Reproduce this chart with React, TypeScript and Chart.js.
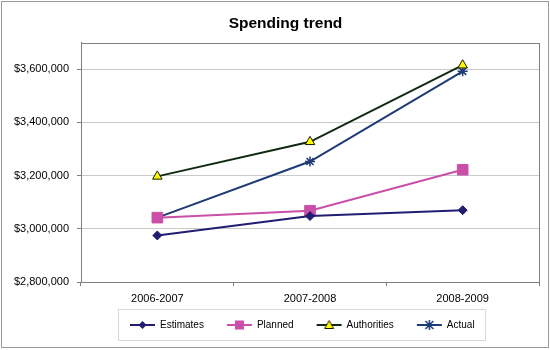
import React, { useEffect, useRef } from "react";
import { Chart, registerables } from "chart.js";

Chart.register(...registerables);

// ---- data ----
const categories = ["2006-2007", "2007-2008", "2008-2009"];
const estimates = [2975000, 3048000, 3070000];
const planned = [3042000, 3068000, 3222000];
const authorities = [3197000, 3327000, 3615000];
const actual = [3042000, 3253000, 3592000];
const yMin = 2800000;
const yMax = 3700000;
const yTickValues = [2800000, 3000000, 3200000, 3400000, 3600000];
const titleText = "Spending trend";
const seriesNames = ["Estimates", "Planned", "Authorities", "Actual"];

const FONT = "'Liberation Sans', Arial, sans-serif";
const C_EST = "#211d70";
const C_PLAN = "#c94fa9";
const C_AUTH = "#0f2a10";
const C_ACT = "#1e3b78";

function drawMarker(ctx: CanvasRenderingContext2D, kind: string, cx: number, cy: number) {
  ctx.save();
  if (kind === "diamond") {
    ctx.fillStyle = C_EST;
    ctx.beginPath();
    ctx.moveTo(cx, cy - 4);
    ctx.lineTo(cx + 4, cy);
    ctx.lineTo(cx, cy + 4);
    ctx.lineTo(cx - 4, cy);
    ctx.closePath();
    ctx.fill();
  } else if (kind === "square") {
    ctx.fillStyle = C_PLAN;
    ctx.fillRect(cx - 4.5, cy - 4.5, 9, 9);
  } else if (kind === "triangle") {
    ctx.fillStyle = "#ffff00";
    ctx.strokeStyle = "#1a1a00";
    ctx.lineWidth = 1;
    ctx.beginPath();
    ctx.moveTo(cx, cy - 4.5);
    ctx.lineTo(cx + 4.5, cy + 3.5);
    ctx.lineTo(cx - 4.5, cy + 3.5);
    ctx.closePath();
    ctx.fill();
    ctx.stroke();
  } else if (kind === "star") {
    ctx.strokeStyle = C_ACT;
    ctx.lineWidth = 1.5;
    ctx.beginPath();
    ctx.moveTo(cx - 4, cy - 4);
    ctx.lineTo(cx + 4, cy + 4);
    ctx.moveTo(cx + 4, cy - 4);
    ctx.lineTo(cx - 4, cy + 4);
    ctx.moveTo(cx, cy - 5);
    ctx.lineTo(cx, cy + 5);
    ctx.stroke();
  }
  ctx.restore();
}

// icon canvas is centred on x + 19 (box width 38); line spans x+13 .. x+38
function makeIcon(color: string, kind: string): HTMLCanvasElement {
  const c = document.createElement("canvas");
  c.width = 50;
  c.height = 12;
  const ctx = c.getContext("2d")!;
  ctx.strokeStyle = color;
  ctx.lineWidth = 2;
  ctx.beginPath();
  ctx.moveTo(19, 6);
  ctx.lineTo(44, 6);
  ctx.stroke();
  drawMarker(ctx, kind, 31.5, 6);
  return c;
}

const framePlugin = {
  id: "frame",
  afterUpdate(chart: any) {
    const t = chart.titleBlock;
    if (t) {
      const d = 285.5 - (t.left + t.right) / 2;
      t.left += d;
      t.right += d;
    }
    const lg = chart.legend;
    if (lg && lg.legendHitBoxes && lg.legendHitBoxes.length) {
      const d = 117 - lg.legendHitBoxes[0].left;
      lg.left += d;
      lg.right += d;
      lg.legendHitBoxes.forEach((h: any) => (h.left += d));
    }
  },
  afterDraw(chart: any) {
    const ctx = chart.ctx as CanvasRenderingContext2D;
    const a = chart.chartArea;
    ctx.save();
    ctx.strokeStyle = "#9a9a9a";
    ctx.lineWidth = 1;
    ctx.strokeRect(1.5, 1.5, 547, 346);
    ctx.strokeStyle = "#808080";
    ctx.strokeRect(Math.round(a.left) + 0.5, Math.round(a.top) + 0.5, Math.round(a.right - a.left), Math.round(a.bottom - a.top));
    const lg = chart.legend;
    if (lg && lg.legendHitBoxes && lg.legendHitBoxes.length) {
      const hb = lg.legendHitBoxes;
      const l = hb[0].left + 1;
      const last = hb[hb.length - 1];
      const r = last.left + last.width + 10;
      const top = Math.round(lg.top) - 0.5;
      ctx.strokeStyle = "#d9d9d9";
      ctx.strokeRect(Math.round(l) + 0.5, top, Math.round(r - l), 31);
    }
    ctx.restore();
  },
};

export default function App() {
  const ref = useRef<HTMLCanvasElement | null>(null);
  useEffect(() => {
    if (!ref.current) return;
    const icons = [
      makeIcon(C_EST, "diamond"),
      makeIcon(C_PLAN, "square"),
      makeIcon(C_AUTH, "triangle"),
      makeIcon(C_ACT, "star"),
    ];
    const chart = new Chart(ref.current, {
      type: "line",
      data: {
        labels: categories,
        datasets: [
          {
            label: seriesNames[0],
            data: estimates,
            borderColor: C_EST,
            backgroundColor: C_EST,
            borderWidth: 2,
            pointStyle: "rectRot",
            pointRadius: 4.5,
            pointBackgroundColor: C_EST,
            pointBorderColor: C_EST,
            pointBorderWidth: 1,
          },
          {
            label: seriesNames[1],
            data: planned,
            borderColor: C_PLAN,
            backgroundColor: C_PLAN,
            borderWidth: 2,
            pointStyle: "rect",
            pointRadius: 7.5,
            pointBackgroundColor: C_PLAN,
            pointBorderColor: C_PLAN,
            pointBorderWidth: 1,
          },
          {
            label: seriesNames[2],
            data: authorities,
            borderColor: C_AUTH,
            backgroundColor: "#ffff00",
            borderWidth: 2,
            pointStyle: "triangle",
            pointRadius: 5.5,
            pointBackgroundColor: "#ffff00",
            pointBorderColor: "#1a1a00",
            pointBorderWidth: 1,
          },
          {
            label: seriesNames[3],
            data: actual,
            borderColor: C_ACT,
            backgroundColor: C_ACT,
            borderWidth: 2,
            pointStyle: "star",
            pointRadius: 5,
            pointBackgroundColor: C_ACT,
            pointBorderColor: C_ACT,
            pointBorderWidth: 1.5,
          },
        ],
      },
      options: {
        responsive: false,
        animation: false,
        events: [],
        layout: { padding: { left: 0, right: 11, top: 0, bottom: 10 } },
        plugins: {
          title: {
            display: true,
            text: titleText,
            color: "#000",
            font: { family: FONT, size: 15.5, weight: "bold" },
            padding: { top: 14, bottom: 10 },
          },
          legend: {
            position: "bottom",
            labels: {
              usePointStyle: true,
              pointStyleWidth: 38,
              boxHeight: 10,
              padding: 10,
              color: "#000",
              font: { family: FONT, size: 10 },
              generateLabels: (ch: any) =>
                ch.data.datasets.map((ds: any, i: number) => ({
                  text: ds.label,
                  pointStyle: icons[i],
                  fillStyle: ds.borderColor,
                  strokeStyle: ds.borderColor,
                  lineWidth: 0,
                  fontColor: "#000",
                  hidden: false,
                  datasetIndex: i,
                })),
            },
          },
          tooltip: { enabled: false },
        },
        scales: {
          x: {
            offset: true,
            grid: {
              display: true,
              offset: true,
              drawOnChartArea: false,
              drawTicks: true,
              tickLength: 4,
              tickColor: "#808080",
            },
            border: { display: true, color: "#808080" },
            ticks: { color: "#000", font: { family: FONT, size: 11 }, padding: 6, maxRotation: 0 },
            afterFit: (s: any) => {
              s.height = 28;
            },
          },
          y: {
            min: yMin,
            max: yMax,
            grid: { color: "#c9c9c9", tickColor: "#808080", tickLength: 4 },
            border: { display: true, color: "#808080" },
            ticks: {
              color: "#000",
              padding: 8,
              font: { family: FONT, size: 11 },
              callback: (v: any) => "$" + Number(v).toLocaleString("en-US"),
            },
            afterBuildTicks: (s: any) => {
              s.ticks = yTickValues.map((v) => ({ value: v }));
            },
            afterFit: (s: any) => {
              s.width = 81;
            },
          },
        },
      },
      plugins: [framePlugin],
    } as any);
    return () => chart.destroy();
  }, []);
  return (
    <div style={{ position: "absolute", left: 0, top: 0, width: 550, height: 350, background: "#fff" }}>
      <canvas ref={ref} width={550} height={350} />
    </div>
  );
}
